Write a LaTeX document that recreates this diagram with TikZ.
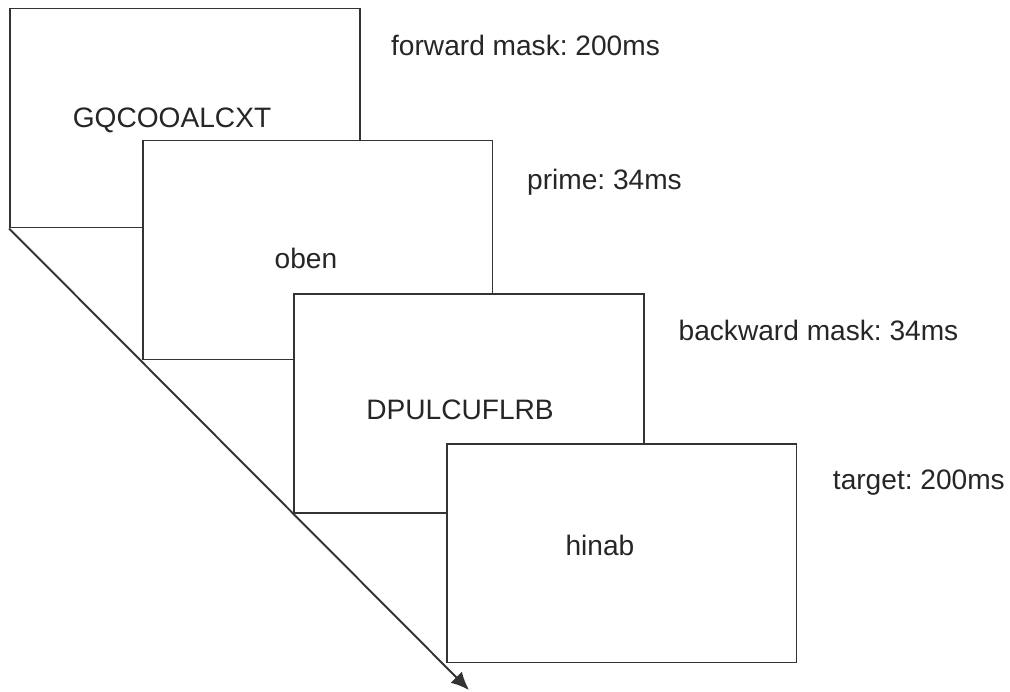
\documentclass[tikz,border=0pt]{standalone}
\usepackage{fontspec}
\setmainfont{Liberation Sans}
\usepackage{tikz}
\usetikzlibrary{positioning, arrows.meta, calc}
\definecolor{framegray}{HTML}{333333}
\frenchspacing

\begin{document}
\begin{tikzpicture}[
        x=0.02cm, y=-0.02cm,
        font=\fontsize{16}{19}\selectfont,
        screen/.style={rectangle, draw=framegray, line width=1.1pt,
                fill=white, minimum width=7cm, minimum height=4.38cm,
                inner sep=0pt},
        stim/.style={inner sep=0pt, text=black!85},
        timing/.style={anchor=west, inner sep=0pt, text=black!85},
        arr/.style={-{Latex[length=3.6mm, width=3.2mm]}, framegray,
                line width=1.1pt},
    ]
    \useasboundingbox (0,0) rectangle (1010,691);

    \coordinate (tip) at (469,690);

    \node[screen] (fwd)  at (185,118) {};
    \draw[arr] (fwd.south west) -- (tip);

    \node[stim] (fwdTxt) at (172,120) {GQCOOALCXT};
    \node[timing] (fwdLbl) at ([xshift=17pt, yshift=-21.5pt]fwd.north east)
        {forward mask: 200ms};

    \node[screen] (prime) at (317.5,250) {};
    \node[stim] (primeTxt) at (306,258) {oben};
    \node[timing] (primeLbl) at ([xshift=19pt, yshift=-24pt]prime.north east)
        {prime: 34ms};

    \node[screen] (bwd) at (469,403.5) {};
    \node[stim] (bwdTxt) at (460,410) {DPULCUFLRB};
    \node[timing] (bwdLbl) at ([xshift=19pt, yshift=-21.5pt]bwd.north east)
        {backward mask: 34ms};

    \node[screen] (target) at (621.5,553) {};
    \node[stim] (targetTxt) at (600,545) {hinab};
    \node[timing] (targetLbl) at ([xshift=20pt, yshift=-23pt]target.north east)
        {target: 200ms};
\end{tikzpicture}
\end{document}
